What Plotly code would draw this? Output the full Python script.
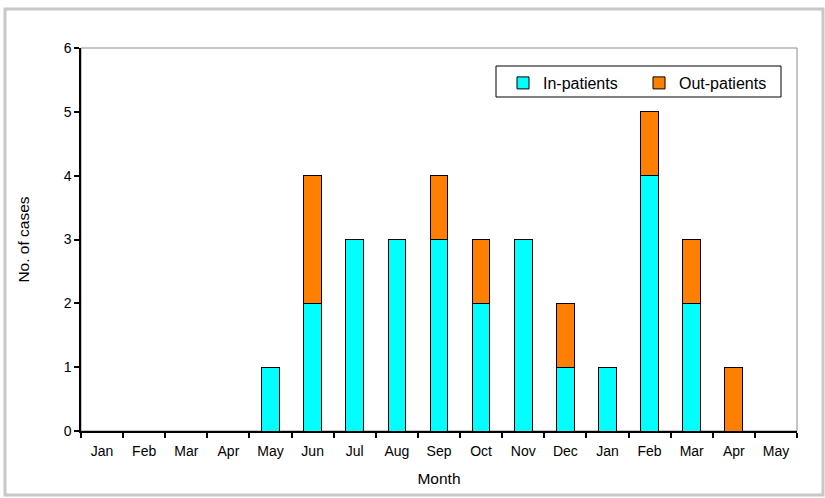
import plotly.graph_objects as go

months = ["Jan", "Feb", "Mar", "Apr", "May", "Jun", "Jul", "Aug", "Sep",
          "Oct", "Nov", "Dec", "Jan", "Feb", "Mar", "Apr", "May"]
in_patients = [0, 0, 0, 0, 1, 2, 3, 3, 3, 2, 3, 1, 1, 4, 2, 0, 0]
out_patients = [0, 0, 0, 0, 0, 2, 0, 0, 1, 1, 0, 1, 0, 1, 1, 1, 0]
y_ticks = [0, 1, 2, 3, 4, 5, 6]

x = list(range(len(months)))

fig = go.Figure()
fig.add_trace(go.Bar(x=x, y=in_patients, name="In-patients",
                     marker=dict(color="#00FFFF", line=dict(color="black", width=1)),
                     width=0.42))
fig.add_trace(go.Bar(x=x, y=out_patients, name="Out-patients",
                     marker=dict(color="#FF8000", line=dict(color="black", width=1)),
                     width=0.42))

L, R, T, B = 81, 28, 48, 67
W, H = 825, 498
pw, ph = W - L - R, H - T - B

fig.update_layout(
    barmode="stack",
    width=W, height=H,
    margin=dict(l=L, r=R, t=T, b=B, autoexpand=False),
    paper_bgcolor="white", plot_bgcolor="white",
    font=dict(family="Arial, Liberation Sans, sans-serif", size=14, color="black"),
    showlegend=True,
    legend=dict(orientation="h", traceorder="normal",
                x=(503 - L) / pw, xanchor="left",
                y=(H - B - 66) / ph, yanchor="top",
                borderwidth=0, bgcolor="rgba(0,0,0,0)",
                font=dict(size=16), itemwidth=30,
                entrywidth=91),
    xaxis=dict(range=[-0.5, len(months) - 0.5], tickmode="array", tickvals=x,
               ticktext=months, ticks="", showgrid=False, zeroline=False,
               showline=True, linecolor="black", linewidth=1.5,
               ticklabelstandoff=6,
               minor=dict(tickmode="array", tickvals=[i - 0.5 for i in range(len(months) + 1)],
                          ticks="outside", ticklen=5, tickcolor="black", tickwidth=1.5,
                          showgrid=False),
               title=dict(text="Month", font=dict(size=15.5), standoff=16),
               tickfont=dict(size=14)),
    yaxis=dict(range=[0, 6], tickmode="array", tickvals=y_ticks, ticks="outside",
               ticklen=5, tickcolor="black", tickwidth=1.5, showgrid=False,
               zeroline=False, showline=True, linecolor="black", linewidth=1.5,
               title=dict(text="No. of cases", font=dict(size=15.5), standoff=30),
               tickfont=dict(size=14)),
    shapes=[
        dict(type="rect", xref="paper", yref="paper", x0=0, x1=1, y0=0, y1=1,
             line=dict(color="#8c8c8c", width=1), layer="below"),
        dict(type="rect", xref="paper", yref="paper",
             x0=(5 - L) / pw, x1=(823 - L) / pw,
             y0=(H - B - 495) / ph, y1=(H - B - 9) / ph,
             line=dict(color="#c8c8c8", width=3), layer="below"),
        dict(type="rect", xref="paper", yref="paper",
             x0=(496 - L) / pw, x1=(781 - L) / pw,
             y0=(H - B - 97) / ph, y1=(H - B - 66) / ph,
             line=dict(color="black", width=1), fillcolor="white", layer="below"),
    ],
)

fig.write_html("out.html", config={"displayModeBar": False},
               post_script="document.body.style.margin='0';")
